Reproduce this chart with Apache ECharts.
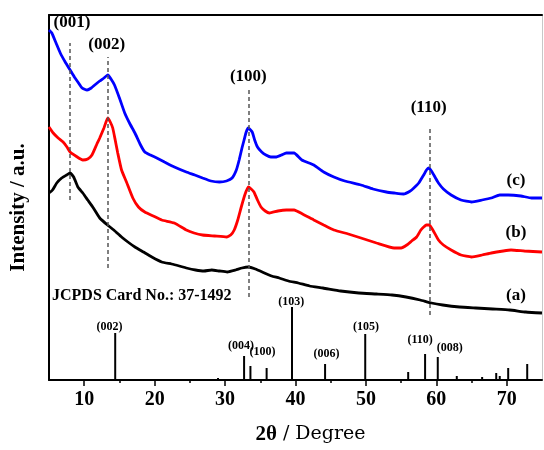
<!DOCTYPE html>
<html>
<head>
<meta charset="utf-8">
<script src="https://cdn.jsdelivr.net/npm/echarts@6/dist/echarts.min.js"></script>
<style>
	html, body {margin: 0; padding: 0; background: #fff;}
	#xrd {width: 544px; height: 450px;}
</style>
</head>
<body>
<div id="xrd"></div>
<script>
// curve (a): raw sample, black
var curveA = [[5.0,187],[5.5,190],[6.1,197],[6.8,202],[7.5,205],[8.0,207],[8.5,203],[9.1,193],[9.8,187],[10.5,180],
	[11.3,172],[12.2,162],[13.3,155],[14.2,150],[15.3,143],[16.2,138],[17.2,133],[18.4,128],[19.6,123],[21.0,118],
	[22.4,116],[23.5,114],[24.5,112],[25.8,110],[27.0,109],[28.1,110],[29.2,109],[30.3,108],[31.5,110],[32.4,112],
	[33.3,113],[34.3,111],[35.6,107],[36.6,104],[37.7,102],[39.0,99],[40.4,97],[42.0,94],[43.9,92],[46.4,89],
	[49.0,87],[51.5,86],[53.7,85],[55.7,83],[57.7,80],[59.3,77],[60.9,75],[63.3,73],[65.6,72],[68.0,71],
	[70.4,70],[72.7,68],[75.0,67]];
// curve (b): red
var curveB = [[5.0,253],[5.6,247],[6.3,242],[7.0,238],[7.55,233],[8.0,228],[8.8,224],[9.8,220],[10.5,221],[11.1,225],
	[11.8,236],[12.2,242],[12.8,252],[13.35,262],[13.7,258],[14.05,252],[14.4,240],[14.76,227],[15.3,210],[16.0,198],
	[16.9,182],[17.7,173],[18.6,168],[19.8,164],[21.0,160],[22.8,157],[24.5,150],[25.6,147],[26.8,145],[28.5,144],
	[30.2,143],[30.8,145],[31.3,150],[31.8,160],[32.3,173],[32.8,185],[33.3,193],[33.7,191],[34.1,188],[34.6,180],
	[35.1,173],[35.7,169],[36.3,167],[37.5,169],[38.7,170],[39.8,170],[41.0,166],[42.6,160],[44.0,155],[45.45,150],
	[47.5,146],[49.3,142],[51.5,137],[54.0,132],[55.0,132],[55.8,135],[56.5,139],[57.2,143],[57.8,150],[58.2,153],
	[58.6,155],[59.0,155],[59.5,150],[60.3,140],[61.0,135],[62.1,130],[63.5,125],[65.0,123],[66.5,125],[67.8,127],
	[69.5,129],[70.6,130],[72.5,129],[75.0,128]];
// curve (c): blue
var curveC = [[5.0,350],[5.4,347],[6.0,337],[6.6,327],[7.3,318],[8.0,310],[8.6,303],[9.1,298],[9.7,292],[10.4,290],
	[11.0,292],[11.5,295],[12.2,299],[12.8,302],[13.35,305],[13.8,301],[14.3,295],[15.0,282],[15.75,267],[16.5,256],
	[17.2,247],[18.0,235],[18.6,228],[19.4,225],[20.3,222],[21.4,218],[22.8,213],[24.5,208],[25.7,205],[26.8,202],
	[28.0,199],[29.2,198],[30.2,199],[31.0,202],[31.6,210],[32.0,220],[32.4,232],[32.7,240],[33.0,248],[33.3,252],
	[33.85,248],[34.2,240],[34.6,233],[35.2,228],[35.8,225],[36.5,223],[37.2,223],[38.0,225],[38.7,227],[39.4,227],
	[39.8,227],[40.9,220],[42.6,215],[44.0,208],[45.45,203],[47.0,199],[49.3,195],[51.0,191],[52.9,188],[54.0,187],
	[55.35,186],[56.3,189],[56.8,192],[57.5,197],[58.2,205],[58.6,210],[58.9,212],[59.3,209],[59.8,203],[60.3,197],
	[61.0,191],[62.1,185],[63.5,180],[65.0,178],[66.5,180],[67.8,182],[69.0,185],[70.2,185],[72.0,184],[73.5,182],
	[75.0,182]];

// JCPDS 37-1492 reference sticks: [2theta, height]
var stickPos = [14.4, 29.0, 32.7, 33.6, 35.9, 39.5, 44.2, 49.9, 56.0, 58.4, 60.2, 62.9, 66.5, 68.5, 69.0, 70.2, 72.9];
var stickHeight = [47, 2, 24, 14, 12, 73, 16, 46, 8, 26, 23, 4, 3, 7, 4, 12, 16];
var stickLabels = ['(002)', '(004)', '(100)', '(103)', '(006)', '(105)', '(110)', '(008)'];
var stickLabelAt = [[13.6,53], [32.25,34], [35.3,28], [39.4,78], [44.4,26], [50.0,53], [57.7,40], [61.9,32]];

// peak markers on the measured curves
var peakNames = ['(001)', '(002)', '(100)', '(110)'];
var peakNameAt = [[8.25,357], [13.2,335], [33.3,303], [58.9,272]];
var peakLines = [[8.0,180,337], [13.3,112,323], [33.3,83,293], [59.0,65,251]];

var curveNames = ['(a)', '(b)', '(c)'];
var curveNameAt = [[71.3,84], [71.3,147], [71.3,199]];

var majorTicks = [10, 20, 30, 40, 50, 60, 70];
var minorTicks = [15, 25, 35, 45, 55, 65];

var serif = "'Times New Roman', 'Liberation Serif', serif";

var chart = echarts.init(document.getElementById('xrd'));

var stickData = [];
for (var i=0; i<stickPos.length; i++){
	stickData.push([stickPos[i], stickHeight[i]]);
}
function textData(names, at){
	var out = [];
	for (var i=0; i<names.length; i++){
		out.push([at[i][0], at[i][1], names[i]]);
	}
	return out;
}
var dashData = [];
for (var i=0; i<peakLines.length; i++){
	dashData.push([{coord: [peakLines[i][0], peakLines[i][1]]}, {coord: [peakLines[i][0], peakLines[i][2]]}]);
}

function textSeries(data, size){
	return {
		type: 'scatter',
		data: data,
		symbolSize: 0,
		silent: true,
		z: 5,
		itemStyle: {opacity: 1},
		label: {
			show: true,
			position: 'inside',
			formatter: function(p){ return p.data[2]; },
			fontFamily: serif,
			fontWeight: 'bold',
			fontSize: size,
			color: '#000',
			opacity: 1
		}
	};
}

var option = {
	animation: false,
	backgroundColor: '#fff',
	grid: {left: 49, right: 2, top: 15, bottom: 70},
	xAxis: [{
		type: 'value',
		min: 5,
		max: 75,
		axisLine: {lineStyle: {color: '#000', width: 2}},
		axisTick: {customValues: majorTicks, length: 6, lineStyle: {color: '#000', width: 1.5}},
		axisLabel: {customValues: majorTicks, margin: 10, fontFamily: serif, fontWeight: 'bold', fontSize: 20, color: '#000'},
		splitLine: {show: false},
		name: '{a|2θ}{b| / Degree}',
		nameLocation: 'middle',
		nameGap: 44,
		nameTextStyle: {
			padding: [0, 0, 0, 30],
			rich: {
				a: {fontFamily: serif, fontWeight: 'bold', fontSize: 21, color: '#000'},
				b: {fontFamily: "'DejaVu Serif', serif", fontSize: 19, color: '#000'}
			}
		}
	}, {
		// short ticks between the labelled ones
		type: 'value',
		min: 5,
		max: 75,
		position: 'bottom',
		axisLine: {show: false},
		axisTick: {customValues: minorTicks, length: 3, lineStyle: {color: '#000', width: 1.5}},
		axisLabel: {show: false},
		splitLine: {show: false}
	}, {
		// top frame
		type: 'value',
		min: 5,
		max: 75,
		position: 'top',
		axisLine: {lineStyle: {color: '#000', width: 2}},
		axisTick: {show: false},
		axisLabel: {show: false},
		splitLine: {show: false}
	}],
	yAxis: [{
		type: 'value',
		min: 0,
		max: 365,
		axisLine: {show: true, lineStyle: {color: '#000', width: 2}},
		axisTick: {show: false},
		axisLabel: {show: false},
		splitLine: {show: false},
		name: 'Intensity / a.u.',
		nameLocation: 'middle',
		nameGap: 20,
		nameTextStyle: {fontFamily: serif, fontWeight: 'bold', fontSize: 21, color: '#000', padding: [0, 20, 0, 0]}
	}, {
		type: 'value',
		min: 0,
		max: 365,
		position: 'right',
		axisLine: {show: true, lineStyle: {color: '#c8c8c8', width: 1}},
		axisTick: {show: false},
		axisLabel: {show: false},
		splitLine: {show: false}
	}],
	graphic: [{
		type: 'text',
		left: 52,
		top: 288,
		style: {text: 'JCPDS Card No.: 37-1492', font: 'bold 16px ' + serif, fill: '#000'}
	}],
	series: [{
		type: 'line',
		data: [],
		markLine: {
			silent: true,
			symbol: 'none',
			label: {show: false},
			lineStyle: {type: [4, 3], color: '#555', width: 1.5},
			data: dashData
		}
	}, {
		type: 'bar',
		data: stickData,
		barWidth: 2,
		itemStyle: {color: '#000'},
		silent: true
	}, {
		type: 'line', name: '(a)', data: curveA, showSymbol: false, smooth: 0.15,
		lineStyle: {color: '#000', width: 2.8}, z: 3
	}, {
		type: 'line', name: '(b)', data: curveB, showSymbol: false, smooth: 0.15,
		lineStyle: {color: '#ff0000', width: 2.8}, z: 3
	}, {
		type: 'line', name: '(c)', data: curveC, showSymbol: false, smooth: 0.15,
		lineStyle: {color: '#0000ff', width: 2.8}, z: 3
	},
		textSeries(textData(stickLabels, stickLabelAt), 12),
		textSeries(textData(peakNames, peakNameAt), 17),
		textSeries(textData(curveNames, curveNameAt), 17)
	]
};
chart.setOption(option);
</script>
</body>
</html>
